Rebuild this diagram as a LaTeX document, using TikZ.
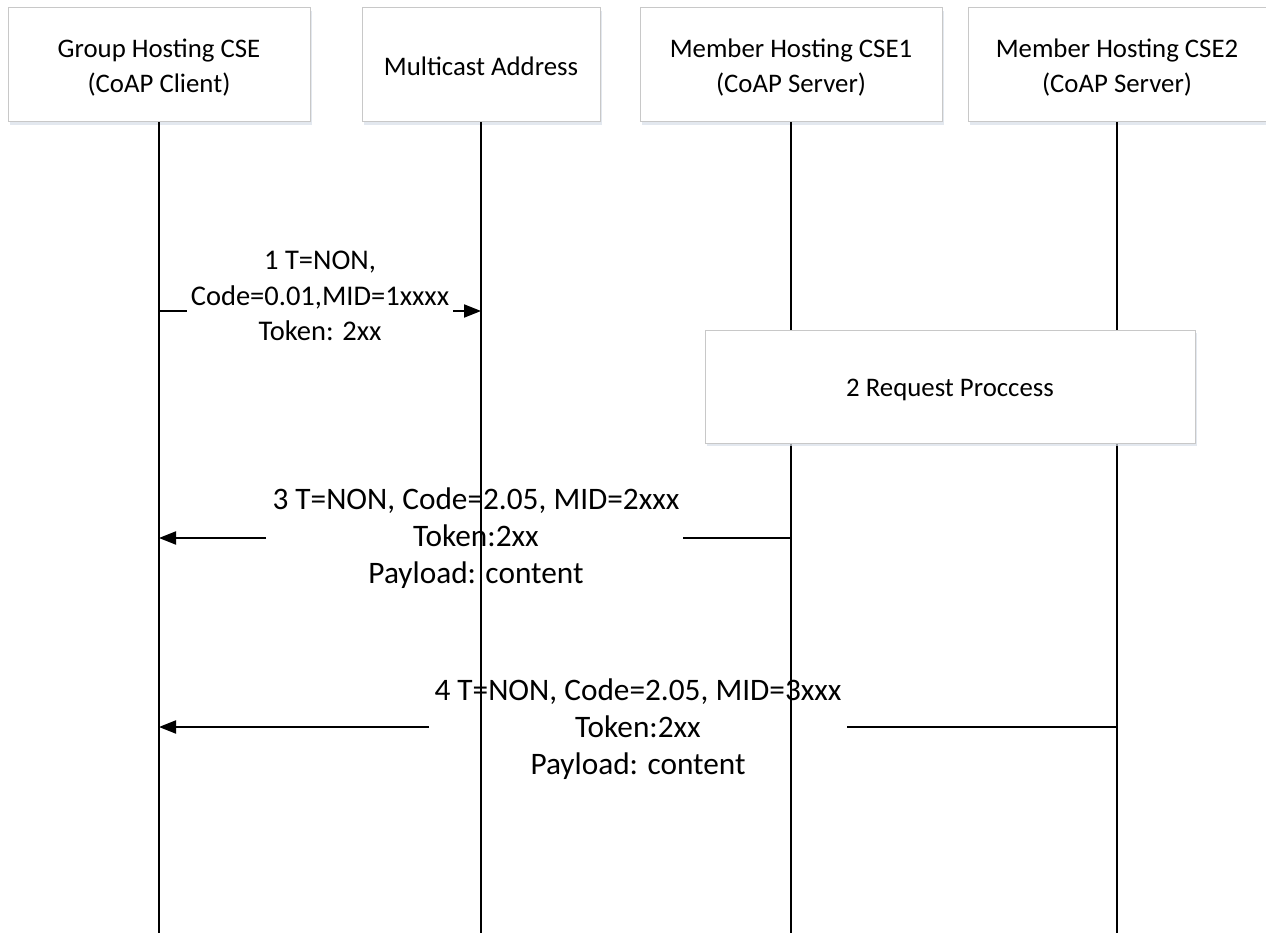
\documentclass[tikz,border=0pt]{standalone}
\usepackage{fontspec}
\setmainfont{Carlito}
\usetikzlibrary{arrows.meta,shadows}
\definecolor{boxline}{RGB}{200,200,200}
\definecolor{shadowc}{RGB}{215,222,232}
\begin{document}
\begin{tikzpicture}[x=1pt,y=-1pt,
  txt/.style={align=center, inner sep=0pt},
  hdrfont/.style={font=\fontsize{26.8}{35}\selectfont},
  m1font/.style={font=\fontsize{28.5}{35.5}\selectfont},
  mfont/.style={font=\fontsize{31.3}{37}\selectfont},
  hdr/.style={draw=boxline, line width=1pt, fill=white, inner sep=0pt,
    drop shadow={shadow xshift=2pt,shadow yshift=-3pt,fill=shadowc,opacity=0.7}},
  hdrtext/.style={txt, hdrfont},
  life/.style={line width=2pt, black},
  msgline/.style={line width=2pt, black},
  tip/.style={-{Triangle[length=17pt,width=13pt]}}
]
\useasboundingbox (0,0) rectangle (1266,933);

% header boxes
\node[hdr, minimum width=302, minimum height=114] (g)  at (159,65) {};
\node[hdr, minimum width=238, minimum height=114] (mc) at (481,65) {};
\node[hdr, minimum width=302, minimum height=114] (s1) at (791,65) {};
\node[hdr, minimum width=298, minimum height=114] (s2) at (1117,65) {};
\node[hdrtext] (gt)  at ([yshift=-3pt]g.center)  {Group Hosting CSE\\(CoAP Client)};
\node[hdrtext] (mct) at ([yshift=-1pt]mc.center) {Multicast Address};
\node[hdrtext] (s1t) at ([yshift=-3pt]s1.center) {Member Hosting CSE1\\(CoAP Server)};
\node[hdrtext] (s2t) at ([yshift=-3pt]s2.center) {Member Hosting CSE2\\(CoAP Server)};

% lifeline ends
\coordinate (gE)  at (g.south |- 0,933);
\coordinate (mcE) at (mc.south |- 0,933);
\coordinate (s1E) at (s1.south |- 0,933);
\coordinate (s2E) at (s2.south |- 0,933);

% message 1
\coordinate (m1s) at (g.south |- 0,311);
\coordinate (m1a) at (187,311);
\coordinate (m1b) at (453,311);
\coordinate (m1e) at (mc.south |- 0,311);
\node[txt, m1font] (t1) at (320,296) {1 T=NON,\\Code=0.01,MID=1xxxx\\Token: 2xx};
\draw[msgline] (m1s) -- (m1a);
\draw[msgline,tip] (m1b) -- (m1e);

% message 3
\coordinate (m3s) at (s1.south |- 0,538);
\coordinate (m3a) at (683,538);
\coordinate (m3b) at (266,538);
\coordinate (m3e) at (g.south |- 0,538);
\node[txt, mfont] (t3) at (476,538.5) {3 T=NON, Code=2.05, MID=2xxx\\Token:2xx\\Payload: content};
\draw[msgline] (m3s) -- (m3a);
\draw[msgline,tip] (m3b) -- (m3e);

% message 4
\coordinate (m4s) at (s2.south |- 0,727);
\coordinate (m4a) at (847,727);
\coordinate (m4b) at (429,727);
\coordinate (m4e) at (g.south |- 0,727);
\node[txt, mfont] (t4) at (638,729.5) {4 T=NON, Code=2.05, MID=3xxx\\Token:2xx\\Payload: content};
\draw[msgline] (m4s) -- (m4a);
\draw[msgline,tip] (m4b) -- (m4e);

% lifelines
\draw[life] (g.south) -- (gE);
\draw[life] (mc.south) -- (mcE);
\draw[life] (s1.south) -- (s1E);
\draw[life] (s2.south) -- (s2E);

% process box
\node[hdr, minimum width=490, minimum height=113] (rp) at (950,386.5) {};
\node[hdrtext] (rpt) at ([yshift=-3pt]rp.center) {2 Request Proccess};
\end{tikzpicture}
\end{document}
